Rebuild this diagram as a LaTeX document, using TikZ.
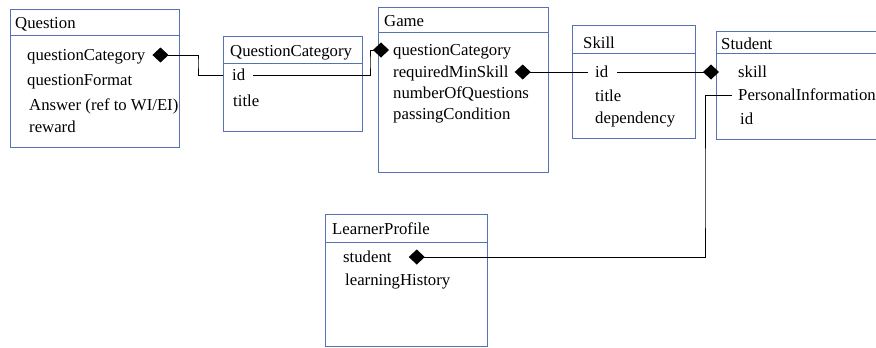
\documentclass[tikz,border=0pt]{standalone}
\usepackage{fontspec}
\setmainfont{Liberation Serif}
\usepackage{tikz}
\usetikzlibrary{arrows.meta, positioning}

\definecolor{boxblue}{RGB}{84,114,180}

\tikzset{
  classbox/.style={draw=boxblue, line width=1bp},
  title/.style={anchor=west, inner sep=0pt, font=\fontsize{16.8}{20}\selectfont, text height=11.5bp, text depth=0pt},
  attr/.style={title},
  comp/.style={line width=0.9bp, -{Diamond[length=16bp, width=15bp]}}
}

\begin{document}
\begin{tikzpicture}[x=1bp, y=-1bp]
  \useasboundingbox (0,0) rectangle (876,347);

  % Question
  \draw[classbox] (10,9) rectangle (179,147);
  \draw[classbox] (10,35) -- (179,35);
  \node[title] (question) at (15,23) {Question};
  \node[attr] (qCat) at (27,55) {questionCategory};
  \node[attr] (qFormat) at (27,80) {questionFormat};
  \node[attr] (qAnswer) at (29,105) {Answer (ref to WI/EI)};
  \node[attr] (qReward) at (29,127) {reward};

  % QuestionCategory
  \draw[classbox] (223,36) rectangle (362,131);
  \draw[classbox] (223,63) -- (362,63);
  \node[title] (qcat) at (230,51) {QuestionCategory};
  \node[attr] (qcId) at (232,75) {id};
  \node[attr] (qcTitle) at (233,101) {title};

  % Game
  \draw[classbox] (378,7) rectangle (548,172);
  \draw[classbox] (378,32) -- (548,32);
  \node[title] (game) at (384,21) {Game};
  \node[attr] (gCat) at (393,50) {questionCategory};
  \node[attr] (gSkill) at (393,72) {requiredMinSkill};
  \node[attr] (gNum) at (393,93) {numberOfQuestions};
  \node[attr] (gPass) at (393,114) {passingCondition};

  % Skill
  \draw[classbox] (572,25) rectangle (695,138);
  \draw[classbox] (572,53) -- (695,53);
  \node[title] (skill) at (583,43) {Skill};
  \node[attr] (skId) at (595,72) {id};
  \node[attr] (skTitle) at (595,96) {title};
  \node[attr] (skDep) at (595,118) {dependency};

  % Student
  \draw[classbox] (716,31) rectangle (900,139);
  \draw[classbox] (716,53) -- (900,53);
  \node[title] (student) at (721,44) {Student};
  \node[attr] (stSkill) at (738,72) {skill};
  \node[attr] (stInfo) at (738,95) {PersonalInformation};
  \node[attr] (stId) at (740,119) {id};

  % LearnerProfile
  \draw[classbox] (325,214) rectangle (487,346);
  \draw[classbox] (325,242) -- (487,242);
  \node[title] (learner) at (332,229) {LearnerProfile};
  \node[attr] (lpStudent) at (343,257) {student};
  \node[attr] (lpHistory) at (345,280) {learningHistory};

  % Connectors
  \draw[comp] ([xshift=-9bp]qcId.west) -| (198,62) |- ([xshift=7bp]qCat.east);
  \draw[comp] ([xshift=8bp]qcId.east) -| (370,62) |- ([xshift=-4bp]gCat.west);
  \draw[comp] ([xshift=-7bp]skId.west) -- ([xshift=6bp]gSkill.east);
  \draw[comp] ([xshift=9bp]skId.east) -- ([xshift=-19bp]stSkill.west);
  \draw[comp] ([xshift=-6bp]stInfo.west) -| (705,200) |- ([xshift=17bp]lpStudent.east);
\end{tikzpicture}
\end{document}
